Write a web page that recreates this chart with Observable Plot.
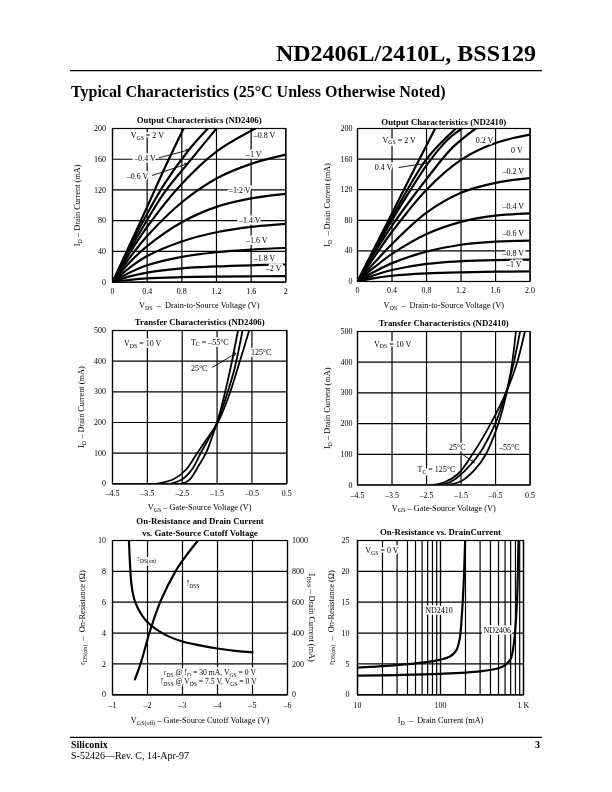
<!DOCTYPE html>
<html><head><meta charset="utf-8">
<script src="https://cdn.jsdelivr.net/npm/d3@7"></script>
<script src="https://cdn.jsdelivr.net/npm/@observablehq/plot@0.6"></script>
<style>
body{margin:0;background:#fff;}
#page{position:relative;width:612px;height:792px;background:#fff;overflow:hidden;font-family:"Liberation Serif","Times New Roman",serif;filter:grayscale(1);}
</style></head>
<body><div id="page">
<svg width="612" height="792" style="position:absolute;left:0;top:0" font-family="Liberation Serif, Times New Roman, serif">
<text x="536" y="60.5" text-anchor="end" font-weight="bold" font-size="24">ND2406L/2410L, BSS129</text>
<line x1="70" x2="542" y1="70.7" y2="70.7" stroke="black" stroke-width="1.3"/>
<text x="71" y="96.5" font-weight="bold" font-size="16">Typical Characteristics (25°C Unless Otherwise Noted)</text>
<line x1="70" x2="542" y1="737.3" y2="737.3" stroke="black" stroke-width="1.3"/>
<text x="71" y="747.5" font-weight="bold" font-size="10">Siliconix</text>
<text x="540" y="747.5" text-anchor="end" font-weight="bold" font-size="10">3</text>
<text x="71" y="758.5" font-size="10">S-52426—Rev. C, 14-Apr-97</text>
</svg>
</div>
<script>
// ===== Output Characteristics (ND2406) : x = VDS (V), y = ID (mA) =====
const out2406XTicks = [0, 0.4, 0.8, 1.2, 1.6, 2];
const out2406YTicks = [0, 40, 80, 120, 160, 200];
const out2406Curves = [
  {s: "2 V",    pts: [[0,0],[0.2,49],[0.4,98],[0.6,148],[0.82,200]]},
  {s: "-0.4 V", pts: [[0,0],[0.2,46],[0.4,89],[0.6,128],[0.88,172],[1.1,200]]},
  {s: "-0.6 V", pts: [[0,0],[0.2,42],[0.4,81],[0.6,117],[0.865,154],[1.2,200]]},
  {s: "-0.8 V", pts: [[0,0],[0.2,38],[0.4,72],[0.8,128],[1.2,170],[1.65,200]]},
  {s: "-1 V",   pts: [[0,0],[0.2,32],[0.4,60],[0.8,104],[1.2,135],[1.6,154],[2,166]]},
  {s: "-1.2 V", pts: [[0,0],[0.2,26],[0.4,47],[0.8,78],[1.2,98],[1.6,109],[2,115]]},
  {s: "-1.4 V", pts: [[0,0],[0.2,19],[0.4,34],[0.8,53],[1.2,65],[1.6,72],[2,76]]},
  {s: "-1.6 V", pts: [[0,0],[0.2,12.5],[0.4,22],[0.8,33],[1.2,39],[1.6,42.5],[2,44.5]]},
  {s: "-1.8 V", pts: [[0,0],[0.2,7.5],[0.4,12.5],[0.8,18],[1.2,20.5],[1.6,22],[2,23]]},
  {s: "-2 V",   pts: [[0,0],[0.2,3],[0.4,5],[0.8,6.5],[1.2,7.3],[2,8]]}
];
const out2406Labels = [
  {t: "V_{GS} = 2 V", x: 0.21, y: 191}, {t: "–0.4 V", x: 0.25, y: 161},
  {t: "–0.6 V", x: 0.165, y: 137}, {t: "–0.8 V", x: 1.63, y: 191},
  {t: "–1 V", x: 1.54, y: 166}, {t: "–1.2 V", x: 1.345, y: 120},
  {t: "–1.4 V", x: 1.46, y: 80}, {t: "–1.6 V", x: 1.54, y: 54},
  {t: "–1.8 V", x: 1.63, y: 30.5}, {t: "–2 V", x: 1.77, y: 17.5}
];
const out2406Arrows = [
  {x1: 0.54, y1: 162, x2: 0.88, y2: 172},
  {x1: 0.46, y1: 139, x2: 0.865, y2: 154}
];

// ===== Output Characteristics (ND2410) =====
const out2410XTicks = [0, 0.4, 0.8, 1.2, 1.6, 2];
const out2410YTicks = [0, 40, 80, 120, 160, 200];
const out2410Curves = [
  {s: "2 V",    pts: [[0,0],[0.3,67],[0.6,134],[0.9,200]]},
  {s: "0.6 V",  pts: [[0,0],[0.2,43],[0.4,84],[0.8,160],[1.14,200]]},
  {s: "0.4 V",  pts: [[0,0],[0.2,41],[0.4,80],[0.82,155],[1.05,186],[1.21,200]]},
  {s: "0.2 V",  pts: [[0,0],[0.2,38],[0.4,73],[0.8,134],[1.1,175],[1.37,200]]},
  {s: "0 V",    pts: [[0,0],[0.2,33],[0.4,65],[0.8,120],[1.2,159],[1.6,181],[2,192]]},
  {s: "-0.2 V", pts: [[0,0],[0.2,25],[0.4,49],[0.8,90],[1.2,116],[1.6,129],[2,135]]},
  {s: "-0.4 V", pts: [[0,0],[0.2,19],[0.4,36],[0.8,62],[1.2,78],[1.6,86],[2,89]]},
  {s: "-0.6 V", pts: [[0,0],[0.2,13],[0.4,24],[0.8,39],[1.2,48],[1.6,52],[2,53.5]]},
  {s: "-0.8 V", pts: [[0,0],[0.2,8.5],[0.4,15],[0.8,23],[1.2,26.5],[1.6,28],[2,28.5]]},
  {s: "-1 V",   pts: [[0,0],[0.2,4.5],[0.4,7.5],[0.8,10.5],[1.2,12],[1.6,12.8],[2,13.2]]}
];
const out2410Labels = [
  {t: "V_{GS} = 2 V", x: 0.29, y: 185}, {t: "0.2 V", x: 1.37, y: 185},
  {t: "0 V", x: 1.78, y: 171}, {t: "0.4 V", x: 0.2, y: 149},
  {t: "–0.2 V", x: 1.68, y: 144}, {t: "–0.4 V", x: 1.68, y: 98.5},
  {t: "–0.6 V", x: 1.68, y: 62.6}, {t: "–0.8 V", x: 1.68, y: 37},
  {t: "–1 V", x: 1.72, y: 22.7}
];
const out2410Arrows = [{x1: 0.48, y1: 149, x2: 0.82, y2: 155}];

// ===== Transfer Characteristics (ND2406) : x = VGS (V), y = ID (mA) =====
const tr2406XTicks = [-4.5, -3.5, -2.5, -1.5, -0.5, 0.5];
const tr2406YTicks = [0, 100, 200, 300, 400, 500];
const tr2406Curves = [
  {s: "125°C", pts: [[-3.25,0],[-2.75,15],[-2.4,45],[-2.1,95],[-1.8,145],[-1.5,195],[-1.2,275],[-0.9,380],[-0.58,500]]},
  {s: "25°C",  pts: [[-2.85,0],[-2.5,15],[-2.2,50],[-1.97,100],[-1.75,145],[-1.5,200],[-1.25,280],[-1.0,375],[-0.77,500]]},
  {s: "-55°C", pts: [[-2.55,0],[-2.3,12],[-2.05,55],[-1.82,100],[-1.65,150],[-1.5,200],[-1.3,285],[-1.1,385],[-0.9,500]]}
];
const tr2406Labels = [
  {t: "V_{DS} = 10 V", x: -4.17, y: 457}, {t: "T_{C} = –55°C", x: -2.25, y: 462},
  {t: "125°C", x: -0.53, y: 429}, {t: "25°C", x: -2.25, y: 375}
];
const tr2406Arrows = [{x1: -1.63, y1: 380, x2: -0.96, y2: 426}];

// ===== Transfer Characteristics (ND2410) =====
const tr2410XTicks = [-4.5, -3.5, -2.5, -1.5, -0.5, 0.5];
const tr2410YTicks = [0, 100, 200, 300, 400, 500];
const tr2410Curves = [
  {s: "125°C", pts: [[-2.4,0],[-2.0,8],[-1.6,35],[-1.17,100],[-0.64,200],[-0.2,300],[0.1,390],[0.35,500]]},
  {s: "25°C",  pts: [[-2.15,0],[-1.8,10],[-1.4,45],[-0.98,100],[-0.51,200],[-0.2,300],[0.0,385],[0.21,500]]},
  {s: "-55°C", pts: [[-1.9,0],[-1.5,12],[-1.1,50],[-0.78,100],[-0.42,200],[-0.19,295],[-0.03,390],[0.09,500]]}
];
const tr2410Labels = [
  {t: "V_{DS} = 10 V", x: -4.02, y: 459}, {t: "25°C", x: -1.85, y: 122},
  {t: "–55°C", x: -0.4, y: 122}, {t: "T_{C} = 125°C", x: -2.76, y: 51}
];
const tr2410Arrows = [{x1: -1.46, y1: 100, x2: -1.12, y2: 73}];

// ===== On-Resistance and Drain Current vs. Gate-Source Cutoff Voltage =====
const cutXTicks = [-1, -2, -3, -4, -5, -6];
const cutYTicks = [0, 2, 4, 6, 8, 10];          // rDS(on), ohms
const cutRightTicks = [0, 200, 400, 600, 800, 1000]; // IDSS, mA
const cutRds = [[-1.47,10],[-1.5,8.5],[-1.55,7],[-1.65,6],[-1.8,5.3],[-2,4.7],[-2.5,3.9],[-3,3.45],[-3.5,3.2],[-4,3.0],[-4.5,2.85],[-5,2.75]];
const cutIdss = [[-1.64,100],[-1.8,200],[-2.08,420],[-2.38,610],[-2.8,800],[-3.1,900],[-3.44,1000]];
const cutLabels = [
  {t: "r_{DS(on)}", x: -1.71, y: 8.8}, {t: "I_{DSS}", x: -3.12, y: 7.2},
  {t: "r_{DS} @ I_{D} = 30 mA, V_{GS} = 0 V", x: -2.47, y: 1.45},
  {t: "I_{DSS} @ V_{DS} = 7.5 V, V_{GS} = 0 V", x: -2.38, y: 0.84}
];

// ===== On-Resistance vs. Drain Current =====
const ronXTicks = [10, 100, 1000];
const ronXGrid = [10,20,30,40,50,60,70,80,90,100,200,300,400,500,600,700,800,900,1000];
const ronYTicks = [0, 5, 10, 15, 20, 25];
const ronCurves = [
  {s: "ND2410", pts: [[10,4.4],[30,4.8],[60,5.2],[100,5.7],[130,6.2],[155,7.2],[170,9],[180,12.5],[190,18],[198,25]]},
  {s: "ND2406", pts: [[10,3.1],[30,3.2],[100,3.4],[300,3.8],[500,4.3],[600,4.8],[700,5.8],[760,8],[800,11],[840,16],[870,25]]}
];
const ronLabels = [
  {t: "V_{GS} = 0 V", x: 12.4, y: 23.4}, {t: "ND2410", x: 65.4, y: 13.7}, {t: "ND2406", x: 330, y: 10.4}
];

// ================= rendering =================
const page = document.getElementById("page");
const FONT = "Liberation Serif, Times New Roman, serif";
const M = {l: 52, r: 40, t: 30, b: 34};
const dash = d => d < 0 ? "–" + String(Math.abs(d)) : String(d);
const flat = curves => curves.flatMap(c => c.pts.map(([x, y]) => ({s: c.s, x, y})));
const gridStyle = {stroke: "black", strokeOpacity: 1, strokeWidth: 1.2};

function subs(svg) {
  svg.querySelectorAll("text").forEach(el => {
    const s = el.textContent;
    if (!s.includes("_{")) return;
    const fs = parseFloat(getComputedStyle(el).fontSize) || 8;
    const sh = 0.22 * fs;
    el.textContent = "";
    const NS = "http://www.w3.org/2000/svg";
    const re = /_\{([^}]*)\}/g;
    let last = 0, m, shifted = false;
    const add = (txt, sub) => {
      const t = document.createElementNS(NS, "tspan");
      t.textContent = txt;
      if (sub) { t.setAttribute("font-size", (fs * 0.72).toFixed(2)); t.setAttribute("dy", sh.toFixed(2)); shifted = true; }
      else if (shifted) { t.setAttribute("dy", (-sh).toFixed(2)); shifted = false; }
      el.appendChild(t);
    };
    while ((m = re.exec(s))) {
      if (m.index > last) add(s.slice(last, m.index), false);
      add(m[1], true);
      last = re.lastIndex;
    }
    if (last < s.length) add(s.slice(last), false);
  });
}

function mount(frame, opts) {
  const [x0, y0, x1, y1] = frame;
  const svg = Plot.plot({
    width: M.l + (x1 - x0) + M.r,
    height: M.t + (y1 - y0) + M.b,
    marginLeft: M.l, marginRight: M.r, marginTop: M.t, marginBottom: M.b,
    style: {fontFamily: FONT, fontSize: "8px", color: "black", background: "transparent", overflow: "visible"},
    ...opts
  });
  svg.style.position = "absolute";
  svg.style.left = (x0 - M.l) + "px";
  svg.style.top = (y0 - M.t) + "px";
  page.appendChild(svg);
  subs(svg);
}

const mid = {textAnchor: "middle", lineAnchor: "middle"};
function common({xTicks, yTicks, xFmt, yFmt, title, xLabel, yLabel, titleDy, xLabelDy, yLabelDx, xPad, yPad}) {
  return [
    Plot.gridX({ticks: xTicks, ...gridStyle}),
    Plot.gridY({ticks: yTicks, ...gridStyle}),
    Plot.axisX({ticks: xTicks, tickSize: 0, tickPadding: xPad, tickFormat: xFmt, label: null, fontSize: 8}),
    Plot.axisY({ticks: yTicks, tickSize: 0, tickPadding: yPad, tickFormat: yFmt, label: null, fontSize: 8}),
    Plot.text([xLabel], {text: d => d, frameAnchor: "bottom", dy: xLabelDy, fontSize: 8.3, ...mid}),
    Plot.text([yLabel], {text: d => d, frameAnchor: "left", dx: yLabelDx, rotate: -90, fontSize: 8.3, ...mid}),
    ...title.map((t, i) => Plot.text([t], {text: d => d, frameAnchor: "top", dy: titleDy[i], fontSize: 8.8, fontWeight: "bold", ...mid}))
  ];
}
const labelMark = (data, o = {}) => Plot.text(data, {x: "x", y: "y", text: "t", textAnchor: "start", lineAnchor: "middle", fontSize: 8, fill: "black", stroke: "white", strokeWidth: 3.5, ...o});
const arrowMark = data => Plot.arrow(data, {x1: "x1", y1: "y1", x2: "x2", y2: "y2", stroke: "black", strokeWidth: 0.9, headLength: 5});
const curveMark = (rows, o = {}) => Plot.line(rows, {x: "x", y: "y", z: "s", curve: "catmull-rom", stroke: "black", strokeWidth: 2.2, clip: true, ...o});

// Chart 1
mount([111.7, 128, 285, 281.7], {
  x: {domain: [0, 2], axis: null}, y: {domain: [0, 200], axis: null},
  marks: [
    ...common({xTicks: out2406XTicks, yTicks: out2406YTicks, xFmt: d => String(d), yFmt: d => String(d),
      title: ["Output Characteristics (ND2406)"], titleDy: [-8], xLabel: "V_{DS}  –  Drain-to-Source Voltage (V)",
      yLabel: "I_{D} – Drain Current (mA)", xLabelDy: 23.3, yLabelDx: -35, xPad: 6, yPad: 6.5}),
    curveMark(flat(out2406Curves)),
    labelMark(out2406Labels),
    arrowMark(out2406Arrows),
    Plot.frame({stroke: "black", strokeWidth: 1.2})
  ]
});

// Chart 2
mount([356.7, 128, 529.3, 281], {
  x: {domain: [0, 2], axis: null}, y: {domain: [0, 200], axis: null},
  marks: [
    ...common({xTicks: out2410XTicks, yTicks: out2410YTicks, xFmt: d => d === 0 ? "0" : d.toFixed(1), yFmt: d => String(d),
      title: ["Output Characteristics (ND2410)"], titleDy: [-6], xLabel: "V_{DS}  –  Drain-to-Source Voltage (V)",
      yLabel: "I_{D}  – Drain Current (mA)", xLabelDy: 24, yLabelDx: -30, xPad: 6, yPad: 5}),
    curveMark(flat(out2410Curves)),
    labelMark(out2410Labels),
    arrowMark(out2410Arrows),
    Plot.frame({stroke: "black", strokeWidth: 1.2})
  ]
});

// Chart 3
mount([111.7, 330, 286, 483.3], {
  x: {domain: [-4.5, 0.5], axis: null}, y: {domain: [0, 500], axis: null},
  marks: [
    ...common({xTicks: tr2406XTicks, yTicks: tr2406YTicks, xFmt: dash, yFmt: d => String(d),
      title: ["Transfer Characteristics (ND2406)"], titleDy: [-8.3], xLabel: "V_{GS} – Gate-Source Voltage (V)",
      yLabel: "I_{D} – Drain Current (mA)", xLabelDy: 23.4, yLabelDx: -31, xPad: 7, yPad: 6.5}),
    curveMark(flat(tr2406Curves), {strokeWidth: 1.8}),
    labelMark(tr2406Labels),
    arrowMark(tr2406Arrows),
    Plot.frame({stroke: "black", strokeWidth: 1.2})
  ]
});

// Chart 4
mount([356.7, 330.5, 529.3, 484], {
  x: {domain: [-4.5, 0.5], axis: null}, y: {domain: [0, 500], axis: null},
  marks: [
    ...common({xTicks: tr2410XTicks, yTicks: tr2410YTicks, xFmt: dash, yFmt: d => String(d),
      title: ["Transfer Characteristics (ND2410)"], titleDy: [-8.3], xLabel: "V_{GS} – Gate-Source Voltage (V)",
      yLabel: "I_{D} – Drain Current (mA)", xLabelDy: 23, yLabelDx: -30, xPad: 7, yPad: 5}),
    curveMark(flat(tr2410Curves), {strokeWidth: 1.8}),
    labelMark(tr2410Labels),
    arrowMark(tr2410Arrows),
    Plot.frame({stroke: "black", strokeWidth: 1.2})
  ]
});

// Chart 5
mount([111.7, 540, 286.7, 694.3], {
  x: {domain: [-1, -6], axis: null}, y: {domain: [0, 10], axis: null},
  marks: [
    ...common({xTicks: cutXTicks, yTicks: cutYTicks, xFmt: dash, yFmt: d => String(d),
      title: ["On-Resistance and Drain Current", "vs. Gate-Source Cutoff Voltage"], titleDy: [-19, -7],
      xLabel: "V_{GS(off)} – Gate-Source Cutoff Voltage (V)",
      yLabel: "r_{DS(on)}  –  On-Resistance (Ω)", xLabelDy: 25.7, yLabelDx: -30, xPad: 7.5, yPad: 6.5}),
    Plot.axisY({anchor: "right", ticks: cutRightTicks.map(v => v / 100), tickSize: 0, tickPadding: 4.5,
      tickFormat: d => String(Math.round(d * 100)), label: null, fontSize: 8}),
    Plot.text(["I_{DSS} – Drain Current (mA)"], {text: d => d, frameAnchor: "right", dx: 24.5, rotate: 90, fontSize: 8.3, ...mid}),
    Plot.line(cutRds, {x: d => d[0], y: d => d[1], curve: "catmull-rom", stroke: "black", strokeWidth: 2.2, clip: true}),
    Plot.line(cutIdss, {x: d => d[0], y: d => d[1] / 100, curve: "catmull-rom", stroke: "black", strokeWidth: 2.2, clip: true}),
    labelMark(cutLabels, {fontSize: 7.7}),
    Plot.frame({stroke: "black", strokeWidth: 1.2})
  ]
});

// Chart 6
mount([357.3, 540, 523.3, 694.3], {
  x: {type: "log", domain: [10, 1000], axis: null}, y: {domain: [0, 25], axis: null},
  marks: [
    Plot.gridX({ticks: ronXGrid, ...gridStyle}),
    ...common({xTicks: ronXTicks, yTicks: ronYTicks, xFmt: d => d === 1000 ? "1 K" : String(d), yFmt: d => String(d),
      title: ["On-Resistance vs. DrainCurrent"], titleDy: [-8.5],
      xLabel: "I_{D}  –  Drain Current (mA)",
      yLabel: "r_{DS(on)}  –  On-Resistance (Ω)", xLabelDy: 25.7, yLabelDx: -26.6, xPad: 7.5, yPad: 8}),
    curveMark(flat(ronCurves)),
    labelMark(ronLabels),
    Plot.frame({stroke: "black", strokeWidth: 1.2})
  ]
});
</script>
</body></html>
